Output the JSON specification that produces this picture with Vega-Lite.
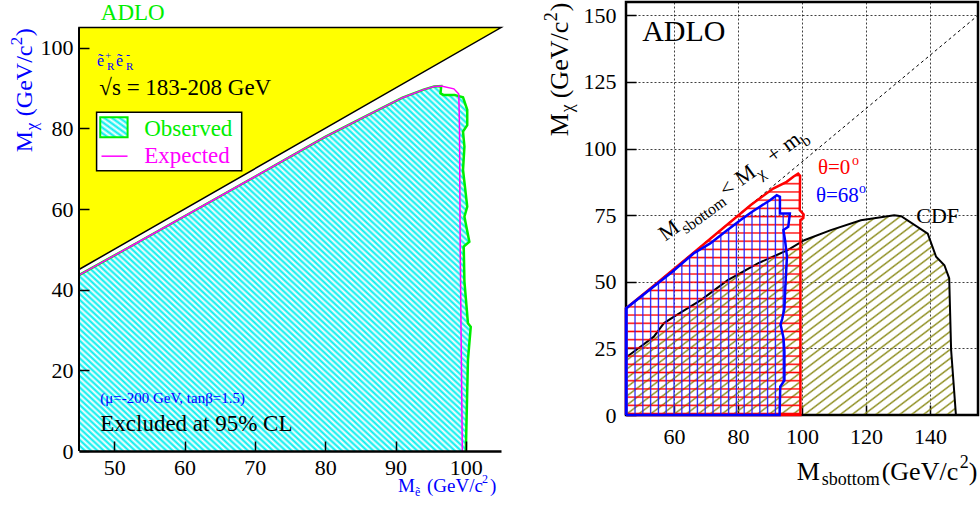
{
"$schema": "https://vega.github.io/schema/vega-lite/v6.json",
"padding": {"left": 7, "top": 0, "right": 0, "bottom": 0},
"spacing": 37,
"config": {
  "font": "Liberation Serif",
  "view": {"stroke": null},
  "axis": {"labelFont": "Liberation Serif", "labelFontSize": 22, "labelColor": "#000", "tickColor": "#000", "domainColor": "#000", "labelFlush": false, "labelOverlap": false}
},
"datasets": {
  "obs": [{"i":1,"x":45,"y":0},{"i":2,"x":45,"y":43.6},{"i":3,"x":52,"y":50.4},{"i":4,"x":60,"y":58.2},{"i":5,"x":70,"y":68.0},{"i":6,"x":80,"y":77.9},{"i":7,"x":86,"y":83.2},{"i":8,"x":91,"y":87.6},{"i":9,"x":94,"y":89.6},{"i":10,"x":95.5,"y":90.4},{"i":11,"x":96.5,"y":90.5},{"i":12,"x":96.4,"y":88.7},{"i":13,"x":96.8,"y":88.3},{"i":14,"x":98.4,"y":88.3},{"i":15,"x":99.6,"y":87.7},{"i":16,"x":100.2,"y":84.6},{"i":17,"x":100.2,"y":80.8},{"i":18,"x":99.6,"y":79.2},{"i":19,"x":99.8,"y":75.5},{"i":20,"x":99.6,"y":69.7},{"i":21,"x":100.2,"y":60.6},{"i":22,"x":99.8,"y":58.1},{"i":23,"x":100.5,"y":51.9},{"i":24,"x":99.7,"y":50.7},{"i":25,"x":99.8,"y":42.0},{"i":26,"x":100.3,"y":31.7},{"i":27,"x":100.7,"y":30.8},{"i":28,"x":100.3,"y":22.6},{"i":29,"x":100.0,"y":0}],
  "exp": [{"i":1,"x":45,"y":43.6},{"i":2,"x":52,"y":50.4},{"i":3,"x":60,"y":58.2},{"i":4,"x":70,"y":68.0},{"i":5,"x":80,"y":77.9},{"i":6,"x":86,"y":83.2},{"i":7,"x":91,"y":87.6},{"i":8,"x":94,"y":89.6},{"i":9,"x":95.5,"y":90.4},{"i":10,"x":96.5,"y":90.5},{"i":11,"x":98.3,"y":89.8},{"i":12,"x":99.0,"y":88.5},{"i":13,"x":99.1,"y":80},{"i":14,"x":99.2,"y":50},{"i":15,"x":99.5,"y":0}],
  "cdf": [{"i":1,"x":45,"y":0},{"i":2,"x":45,"y":21.6},{"i":3,"x":49.5,"y":25.6},{"i":4,"x":53.7,"y":29.4},{"i":5,"x":56.8,"y":34.4},{"i":6,"x":60,"y":36.9},{"i":7,"x":68.4,"y":43.1},{"i":8,"x":76.8,"y":50.6},{"i":9,"x":86.2,"y":56.9},{"i":10,"x":95.5,"y":61.9},{"i":11,"x":100.7,"y":65.6},{"i":12,"x":109,"y":69.4},{"i":13,"x":118.4,"y":73.1},{"i":14,"x":128.8,"y":75.0},{"i":15,"x":131,"y":74.6},{"i":16,"x":139.3,"y":68.1},{"i":17,"x":141.9,"y":59.4},{"i":18,"x":144.5,"y":56.2},{"i":19,"x":146,"y":51.3},{"i":20,"x":146.6,"y":24.4},{"i":21,"x":148.1,"y":0},{"i":22,"x":45,"y":0}],
  "red": [{"i":1,"x":45,"y":0},{"i":2,"x":45,"y":40},{"i":3,"x":55,"y":49.8},{"i":4,"x":65,"y":59.8},{"i":5,"x":75,"y":69.8},{"i":6,"x":84,"y":78.8},{"i":7,"x":91,"y":85},{"i":8,"x":95.2,"y":87.5},{"i":9,"x":97.5,"y":89.6},{"i":10,"x":98.8,"y":90.6},{"i":11,"x":99.4,"y":89.8},{"i":12,"x":99.3,"y":76.9},{"i":13,"x":100.5,"y":75.3},{"i":14,"x":100.4,"y":73.9},{"i":15,"x":99.5,"y":73.1},{"i":16,"x":99.5,"y":0},{"i":17,"x":45,"y":0}],
  "blue": [{"i":1,"x":45,"y":0},{"i":2,"x":45,"y":40},{"i":3,"x":59.4,"y":53.7},{"i":4,"x":66.1,"y":60.6},{"i":5,"x":71.3,"y":64.4},{"i":6,"x":76,"y":68.8},{"i":7,"x":80.7,"y":73.1},{"i":8,"x":84.3,"y":76.2},{"i":9,"x":90,"y":80.6},{"i":10,"x":92.1,"y":82.5},{"i":11,"x":93.1,"y":81.9},{"i":12,"x":93.1,"y":75.6},{"i":13,"x":96.2,"y":75.6},{"i":14,"x":95.7,"y":70.6},{"i":15,"x":94.2,"y":69.4},{"i":16,"x":94.7,"y":65.6},{"i":17,"x":95.3,"y":59.4},{"i":18,"x":94.9,"y":50.6},{"i":19,"x":94.5,"y":40},{"i":20,"x":93.8,"y":36},{"i":21,"x":93.3,"y":34},{"i":22,"x":94.2,"y":29},{"i":23,"x":94.5,"y":24},{"i":24,"x":94.5,"y":13},{"i":25,"x":93.2,"y":10.6},{"i":26,"x":93.0,"y":0},{"i":27,"x":45,"y":0}]
},
"hconcat": [
{
  "width": 422, "height": 449,
  "encoding": {
    "x": {"field": "x", "type": "quantitative", "scale": {"domain": [45, 105], "nice": false, "zero": false},
          "axis": {"values": [50,60,70,80,90,100], "title": null, "grid": false, "tickSize": -10, "tickWidth": 1.5, "labelPadding": 16, "domainWidth": 2.5, "zindex": 1}},
    "y": {"field": "y", "type": "quantitative", "scale": {"domain": [0, 111.33], "nice": false, "zero": false},
          "axis": {"values": [0,20,40,60,80,100], "title": null, "grid": false, "tickSize": -10, "tickWidth": 1.5, "labelPadding": 16, "domain": false, "zindex": 1}}
  },
  "layer": [
    {"data": {"values": [{"x":45,"y":45,"y2":105},{"x":105,"y":105,"y2":105}]},
     "mark": {"type": "area", "fill": "#ffff00", "stroke": "#000", "strokeWidth": 1.5},
     "encoding": {"y2": {"field": "y2"}}},
    {"data": {"name": "obs"},
     "mark": {"type": "line", "strokeOpacity": 0, "fill": {"gradient": "linear", "x1": 0, "y1": 1, "x2": 1, "y2": 0, "stops": [
{"offset":0,"color":"#0ee"},{"offset":0.004,"color":"#fff"},{"offset":0.008,"color":"#0ee"},{"offset":0.012,"color":"#fff"},{"offset":0.016,"color":"#0ee"},{"offset":0.02,"color":"#fff"},{"offset":0.024,"color":"#0ee"},{"offset":0.028,"color":"#fff"},{"offset":0.032,"color":"#0ee"},{"offset":0.036,"color":"#fff"},{"offset":0.04,"color":"#0ee"},{"offset":0.044,"color":"#fff"},{"offset":0.048,"color":"#0ee"},{"offset":0.052,"color":"#fff"},{"offset":0.056,"color":"#0ee"},{"offset":0.06,"color":"#fff"},{"offset":0.064,"color":"#0ee"},{"offset":0.068,"color":"#fff"},{"offset":0.072,"color":"#0ee"},{"offset":0.076,"color":"#fff"},{"offset":0.08,"color":"#0ee"},{"offset":0.084,"color":"#fff"},{"offset":0.088,"color":"#0ee"},{"offset":0.092,"color":"#fff"},{"offset":0.096,"color":"#0ee"},
{"offset":0.1,"color":"#fff"},{"offset":0.104,"color":"#0ee"},{"offset":0.108,"color":"#fff"},{"offset":0.112,"color":"#0ee"},{"offset":0.116,"color":"#fff"},{"offset":0.12,"color":"#0ee"},{"offset":0.124,"color":"#fff"},{"offset":0.128,"color":"#0ee"},{"offset":0.132,"color":"#fff"},{"offset":0.136,"color":"#0ee"},{"offset":0.14,"color":"#fff"},{"offset":0.144,"color":"#0ee"},{"offset":0.148,"color":"#fff"},{"offset":0.152,"color":"#0ee"},{"offset":0.156,"color":"#fff"},{"offset":0.16,"color":"#0ee"},{"offset":0.164,"color":"#fff"},{"offset":0.168,"color":"#0ee"},{"offset":0.172,"color":"#fff"},{"offset":0.176,"color":"#0ee"},{"offset":0.18,"color":"#fff"},{"offset":0.184,"color":"#0ee"},{"offset":0.188,"color":"#fff"},{"offset":0.192,"color":"#0ee"},{"offset":0.196,"color":"#fff"},
{"offset":0.2,"color":"#0ee"},{"offset":0.204,"color":"#fff"},{"offset":0.208,"color":"#0ee"},{"offset":0.212,"color":"#fff"},{"offset":0.216,"color":"#0ee"},{"offset":0.22,"color":"#fff"},{"offset":0.224,"color":"#0ee"},{"offset":0.228,"color":"#fff"},{"offset":0.232,"color":"#0ee"},{"offset":0.236,"color":"#fff"},{"offset":0.24,"color":"#0ee"},{"offset":0.244,"color":"#fff"},{"offset":0.248,"color":"#0ee"},{"offset":0.252,"color":"#fff"},{"offset":0.256,"color":"#0ee"},{"offset":0.26,"color":"#fff"},{"offset":0.264,"color":"#0ee"},{"offset":0.268,"color":"#fff"},{"offset":0.272,"color":"#0ee"},{"offset":0.276,"color":"#fff"},{"offset":0.28,"color":"#0ee"},{"offset":0.284,"color":"#fff"},{"offset":0.288,"color":"#0ee"},{"offset":0.292,"color":"#fff"},{"offset":0.296,"color":"#0ee"},
{"offset":0.3,"color":"#fff"},{"offset":0.304,"color":"#0ee"},{"offset":0.308,"color":"#fff"},{"offset":0.312,"color":"#0ee"},{"offset":0.316,"color":"#fff"},{"offset":0.32,"color":"#0ee"},{"offset":0.324,"color":"#fff"},{"offset":0.328,"color":"#0ee"},{"offset":0.332,"color":"#fff"},{"offset":0.336,"color":"#0ee"},{"offset":0.34,"color":"#fff"},{"offset":0.344,"color":"#0ee"},{"offset":0.348,"color":"#fff"},{"offset":0.352,"color":"#0ee"},{"offset":0.356,"color":"#fff"},{"offset":0.36,"color":"#0ee"},{"offset":0.364,"color":"#fff"},{"offset":0.368,"color":"#0ee"},{"offset":0.372,"color":"#fff"},{"offset":0.376,"color":"#0ee"},{"offset":0.38,"color":"#fff"},{"offset":0.384,"color":"#0ee"},{"offset":0.388,"color":"#fff"},{"offset":0.392,"color":"#0ee"},{"offset":0.396,"color":"#fff"},
{"offset":0.4,"color":"#0ee"},{"offset":0.404,"color":"#fff"},{"offset":0.408,"color":"#0ee"},{"offset":0.412,"color":"#fff"},{"offset":0.416,"color":"#0ee"},{"offset":0.42,"color":"#fff"},{"offset":0.424,"color":"#0ee"},{"offset":0.428,"color":"#fff"},{"offset":0.432,"color":"#0ee"},{"offset":0.436,"color":"#fff"},{"offset":0.44,"color":"#0ee"},{"offset":0.444,"color":"#fff"},{"offset":0.448,"color":"#0ee"},{"offset":0.452,"color":"#fff"},{"offset":0.456,"color":"#0ee"},{"offset":0.46,"color":"#fff"},{"offset":0.464,"color":"#0ee"},{"offset":0.468,"color":"#fff"},{"offset":0.472,"color":"#0ee"},{"offset":0.476,"color":"#fff"},{"offset":0.48,"color":"#0ee"},{"offset":0.484,"color":"#fff"},{"offset":0.488,"color":"#0ee"},{"offset":0.492,"color":"#fff"},{"offset":0.496,"color":"#0ee"},
{"offset":0.5,"color":"#fff"},{"offset":0.504,"color":"#0ee"},{"offset":0.508,"color":"#fff"},{"offset":0.512,"color":"#0ee"},{"offset":0.516,"color":"#fff"},{"offset":0.52,"color":"#0ee"},{"offset":0.524,"color":"#fff"},{"offset":0.528,"color":"#0ee"},{"offset":0.532,"color":"#fff"},{"offset":0.536,"color":"#0ee"},{"offset":0.54,"color":"#fff"},{"offset":0.544,"color":"#0ee"},{"offset":0.548,"color":"#fff"},{"offset":0.552,"color":"#0ee"},{"offset":0.556,"color":"#fff"},{"offset":0.56,"color":"#0ee"},{"offset":0.564,"color":"#fff"},{"offset":0.568,"color":"#0ee"},{"offset":0.572,"color":"#fff"},{"offset":0.576,"color":"#0ee"},{"offset":0.58,"color":"#fff"},{"offset":0.584,"color":"#0ee"},{"offset":0.588,"color":"#fff"},{"offset":0.592,"color":"#0ee"},{"offset":0.596,"color":"#fff"},
{"offset":0.6,"color":"#0ee"},{"offset":0.604,"color":"#fff"},{"offset":0.608,"color":"#0ee"},{"offset":0.612,"color":"#fff"},{"offset":0.616,"color":"#0ee"},{"offset":0.62,"color":"#fff"},{"offset":0.624,"color":"#0ee"},{"offset":0.628,"color":"#fff"},{"offset":0.632,"color":"#0ee"},{"offset":0.636,"color":"#fff"},{"offset":0.64,"color":"#0ee"},{"offset":0.644,"color":"#fff"},{"offset":0.648,"color":"#0ee"},{"offset":0.652,"color":"#fff"},{"offset":0.656,"color":"#0ee"},{"offset":0.66,"color":"#fff"},{"offset":0.664,"color":"#0ee"},{"offset":0.668,"color":"#fff"},{"offset":0.672,"color":"#0ee"},{"offset":0.676,"color":"#fff"},{"offset":0.68,"color":"#0ee"},{"offset":0.684,"color":"#fff"},{"offset":0.688,"color":"#0ee"},{"offset":0.692,"color":"#fff"},{"offset":0.696,"color":"#0ee"},
{"offset":0.7,"color":"#fff"},{"offset":0.704,"color":"#0ee"},{"offset":0.708,"color":"#fff"},{"offset":0.712,"color":"#0ee"},{"offset":0.716,"color":"#fff"},{"offset":0.72,"color":"#0ee"},{"offset":0.724,"color":"#fff"},{"offset":0.728,"color":"#0ee"},{"offset":0.732,"color":"#fff"},{"offset":0.736,"color":"#0ee"},{"offset":0.74,"color":"#fff"},{"offset":0.744,"color":"#0ee"},{"offset":0.748,"color":"#fff"},{"offset":0.752,"color":"#0ee"},{"offset":0.756,"color":"#fff"},{"offset":0.76,"color":"#0ee"},{"offset":0.764,"color":"#fff"},{"offset":0.768,"color":"#0ee"},{"offset":0.772,"color":"#fff"},{"offset":0.776,"color":"#0ee"},{"offset":0.78,"color":"#fff"},{"offset":0.784,"color":"#0ee"},{"offset":0.788,"color":"#fff"},{"offset":0.792,"color":"#0ee"},{"offset":0.796,"color":"#fff"},
{"offset":0.8,"color":"#0ee"},{"offset":0.804,"color":"#fff"},{"offset":0.808,"color":"#0ee"},{"offset":0.812,"color":"#fff"},{"offset":0.816,"color":"#0ee"},{"offset":0.82,"color":"#fff"},{"offset":0.824,"color":"#0ee"},{"offset":0.828,"color":"#fff"},{"offset":0.832,"color":"#0ee"},{"offset":0.836,"color":"#fff"},{"offset":0.84,"color":"#0ee"},{"offset":0.844,"color":"#fff"},{"offset":0.848,"color":"#0ee"},{"offset":0.852,"color":"#fff"},{"offset":0.856,"color":"#0ee"},{"offset":0.86,"color":"#fff"},{"offset":0.864,"color":"#0ee"},{"offset":0.868,"color":"#fff"},{"offset":0.872,"color":"#0ee"},{"offset":0.876,"color":"#fff"},{"offset":0.88,"color":"#0ee"},{"offset":0.884,"color":"#fff"},{"offset":0.888,"color":"#0ee"},{"offset":0.892,"color":"#fff"},{"offset":0.896,"color":"#0ee"},
{"offset":0.9,"color":"#fff"},{"offset":0.904,"color":"#0ee"},{"offset":0.908,"color":"#fff"},{"offset":0.912,"color":"#0ee"},{"offset":0.916,"color":"#fff"},{"offset":0.92,"color":"#0ee"},{"offset":0.924,"color":"#fff"},{"offset":0.928,"color":"#0ee"},{"offset":0.932,"color":"#fff"},{"offset":0.936,"color":"#0ee"},{"offset":0.94,"color":"#fff"},{"offset":0.944,"color":"#0ee"},{"offset":0.948,"color":"#fff"},{"offset":0.952,"color":"#0ee"},{"offset":0.956,"color":"#fff"},{"offset":0.96,"color":"#0ee"},{"offset":0.964,"color":"#fff"},{"offset":0.968,"color":"#0ee"},{"offset":0.972,"color":"#fff"},{"offset":0.976,"color":"#0ee"},{"offset":0.98,"color":"#fff"},{"offset":0.984,"color":"#0ee"},{"offset":0.988,"color":"#fff"},{"offset":0.992,"color":"#0ee"},{"offset":0.996,"color":"#fff"},{"offset":1,"color":"#0ee"}
     ]}},
     "encoding": {"order": {"field": "i", "type": "quantitative"}}},
    {"data": {"name": "obs"}, "transform": [{"filter": "datum.i >= 2"}],
     "mark": {"type": "line", "stroke": "#00ee00", "strokeWidth": 2.5},
     "encoding": {"order": {"field": "i", "type": "quantitative"}}},
    {"data": {"name": "exp"},
     "mark": {"type": "line", "stroke": "#ff00ff", "strokeWidth": 1.5},
     "encoding": {"order": {"field": "i", "type": "quantitative"}}},
    {"data": {"values": [{"x":45,"y":0,"y2":105}]},
     "mark": {"type": "rule", "stroke": "#000", "strokeWidth": 2},
     "encoding": {"y2": {"field": "y2"}}},
    {"data": {"values": [{"x":47.5,"x2":68.13,"y":69.5,"y2":83.98}]},
     "mark": {"type": "rect", "fill": "#fff", "stroke": "#000", "strokeWidth": 1.5},
     "encoding": {"x2": {"field": "x2"}, "y2": {"field": "y2"}}},
    {"data": {"values": [{"x":48.02,"x2":51.91,"y":77.78,"y2":82.74}]},
     "mark": {"type": "rect", "stroke": "#00ee00", "strokeWidth": 2, "fill": {"gradient": "linear", "x1": 0, "y1": 1, "x2": 1, "y2": 0, "stops": [
{"offset":0,"color":"#0ee"},{"offset":0.07,"color":"#fff"},{"offset":0.14,"color":"#0ee"},{"offset":0.21,"color":"#fff"},{"offset":0.28,"color":"#0ee"},{"offset":0.35,"color":"#fff"},{"offset":0.42,"color":"#0ee"},{"offset":0.49,"color":"#fff"},{"offset":0.56,"color":"#0ee"},{"offset":0.63,"color":"#fff"},{"offset":0.7,"color":"#0ee"},{"offset":0.77,"color":"#fff"},{"offset":0.84,"color":"#0ee"},{"offset":0.91,"color":"#fff"},{"offset":0.98,"color":"#0ee"}]}},
     "encoding": {"x2": {"field": "x2"}, "y2": {"field": "y2"}}},
    {"data": {"values": [{"x":48.2,"x2":51.9,"y":73.1}]},
     "mark": {"type": "rule", "stroke": "#ff00ff", "strokeWidth": 1.5},
     "encoding": {"x2": {"field": "x2"}}},
    {"data": {"values": [{"x":48.1,"y":106.9,"t":"ADLO"}]}, "mark": {"type": "text", "align": "left", "baseline": "alphabetic", "fontSize": 23, "color": "#00ee00"}, "encoding": {"text": {"field": "t"}}},
    {"data": {"values": [{"x":47.55,"y":95.5,"t":"ẽ"}]}, "mark": {"type": "text", "align": "left", "baseline": "alphabetic", "fontSize": 16, "color": "#0000ff"}, "encoding": {"text": {"field": "t"}}},
    {"data": {"values": [{"x":47.55,"y":95.5,"t":"+"}]}, "mark": {"type": "text", "align": "left", "baseline": "alphabetic", "fontSize": 11, "color": "#0000ff", "dx": 8, "dy": -7}, "encoding": {"text": {"field": "t"}}},
    {"data": {"values": [{"x":47.55,"y":95.5,"t":"R"}]}, "mark": {"type": "text", "align": "left", "baseline": "alphabetic", "fontSize": 11, "color": "#0000ff", "dx": 10, "dy": 4}, "encoding": {"text": {"field": "t"}}},
    {"data": {"values": [{"x":47.55,"y":95.5,"t":"ẽ"}]}, "mark": {"type": "text", "align": "left", "baseline": "alphabetic", "fontSize": 16, "color": "#0000ff", "dx": 19}, "encoding": {"text": {"field": "t"}}},
    {"data": {"values": [{"x":47.55,"y":95.5,"t":"-"}]}, "mark": {"type": "text", "align": "left", "baseline": "alphabetic", "fontSize": 12, "color": "#0000ff", "dx": 29, "dy": -7}, "encoding": {"text": {"field": "t"}}},
    {"data": {"values": [{"x":47.55,"y":95.5,"t":"R"}]}, "mark": {"type": "text", "align": "left", "baseline": "alphabetic", "fontSize": 11, "color": "#0000ff", "dx": 29, "dy": 4}, "encoding": {"text": {"field": "t"}}},
    {"data": {"values": [{"x":47.89,"y":88.3,"t":"√s = 183-208 GeV"}]}, "mark": {"type": "text", "align": "left", "baseline": "alphabetic", "fontSize": 23, "color": "#000"}, "encoding": {"text": {"field": "t"}}},
    {"data": {"values": [{"x":54.27,"y":78.1,"t":"Observed"}]}, "mark": {"type": "text", "align": "left", "baseline": "alphabetic", "fontSize": 23, "color": "#00ee00"}, "encoding": {"text": {"field": "t"}}},
    {"data": {"values": [{"x":54.27,"y":71.3,"t":"Expected"}]}, "mark": {"type": "text", "align": "left", "baseline": "alphabetic", "fontSize": 23, "color": "#ff00ff"}, "encoding": {"text": {"field": "t"}}},
    {"data": {"values": [{"x":48.02,"y":11.8,"t":"(μ=-200 GeV, tanβ=1.5)"}]}, "mark": {"type": "text", "align": "left", "baseline": "alphabetic", "fontSize": 15, "color": "#0000ff"}, "encoding": {"text": {"field": "t"}}},
    {"data": {"values": [{"x":48.02,"y":4.96,"t":"Excluded at 95% CL"}]}, "mark": {"type": "text", "align": "left", "baseline": "alphabetic", "fontSize": 23, "color": "#000"}, "encoding": {"text": {"field": "t"}}},
    {"data": {"values": [{"x":38.3,"y":74.1,"t":"M"}]}, "mark": {"type": "text", "align": "left", "baseline": "alphabetic", "fontSize": 24, "color": "#0000ff", "angle": 270}, "encoding": {"text": {"field": "t"}}},
    {"data": {"values": [{"x":38.3,"y":74.1,"t":"χ"}]}, "mark": {"type": "text", "align": "left", "baseline": "alphabetic", "fontSize": 17, "color": "#0000ff", "angle": 270, "dx": 22, "dy": 5}, "encoding": {"text": {"field": "t"}}},
    {"data": {"values": [{"x":38.3,"y":74.1,"t":"(GeV/c"}]}, "mark": {"type": "text", "align": "left", "baseline": "alphabetic", "fontSize": 24, "color": "#0000ff", "angle": 270, "dx": 36}, "encoding": {"text": {"field": "t"}}},
    {"data": {"values": [{"x":38.3,"y":74.1,"t":"2"}]}, "mark": {"type": "text", "align": "left", "baseline": "alphabetic", "fontSize": 17, "color": "#0000ff", "angle": 270, "dx": 107, "dy": -10}, "encoding": {"text": {"field": "t"}}},
    {"data": {"values": [{"x":38.3,"y":74.1,"t":")"}]}, "mark": {"type": "text", "align": "left", "baseline": "alphabetic", "fontSize": 24, "color": "#0000ff", "angle": 270, "dx": 116}, "encoding": {"text": {"field": "t"}}},
    {"data": {"values": [{"x":90.36,"y":-10.2,"t":"M"}]}, "mark": {"type": "text", "align": "left", "baseline": "alphabetic", "fontSize": 19, "color": "#0000ff"}, "encoding": {"text": {"field": "t"}}},
    {"data": {"values": [{"x":90.36,"y":-10.2,"t":"ẽ"}]}, "mark": {"type": "text", "align": "left", "baseline": "alphabetic", "fontSize": 12, "color": "#0000ff", "dx": 17, "dy": 4}, "encoding": {"text": {"field": "t"}}},
    {"data": {"values": [{"x":90.36,"y":-10.2,"t":"(GeV/c"}]}, "mark": {"type": "text", "align": "left", "baseline": "alphabetic", "fontSize": 19, "color": "#0000ff", "dx": 29}, "encoding": {"text": {"field": "t"}}},
    {"data": {"values": [{"x":90.36,"y":-10.2,"t":"2"}]}, "mark": {"type": "text", "align": "left", "baseline": "alphabetic", "fontSize": 12, "color": "#0000ff", "dx": 84, "dy": -9}, "encoding": {"text": {"field": "t"}}},
    {"data": {"values": [{"x":90.36,"y":-10.2,"t":")"}]}, "mark": {"type": "text", "align": "left", "baseline": "alphabetic", "fontSize": 19, "color": "#0000ff", "dx": 92}, "encoding": {"text": {"field": "t"}}}
  ]
},
{
  "width": 352, "height": 413,
  "view": {"stroke": "#000", "strokeWidth": 2.5},
  "encoding": {
    "x": {"field": "x", "type": "quantitative", "scale": {"domain": [45, 155], "nice": false, "zero": false},
          "axis": {"values": [60,80,100,120,140], "title": null, "grid": true, "gridDash": [2,2], "gridColor": "#000", "gridOpacity": 0.75, "tickSize": -10, "tickWidth": 1.5, "labelPadding": 21, "domain": false}},
    "y": {"field": "y", "type": "quantitative", "scale": {"domain": [0, 155], "nice": false, "zero": false},
          "axis": {"values": [0,25,50,75,100,125,150], "title": null, "grid": true, "gridDash": [2,2], "gridColor": "#000", "gridOpacity": 0.75, "tickSize": -10, "tickWidth": 1.5, "labelPadding": 20, "domain": false}}
  },
  "layer": [
    {"data": {"name": "cdf"},
     "mark": {"type": "line", "stroke": "#000", "strokeWidth": 2, "fill": {"gradient": "linear", "x1": 0, "y1": 0, "x2": 1.097, "y2": 0.88, "stops": [
{"offset":0,"color":"rgba(140,140,28,0)"},{"offset":0.004,"color":"#8c8c1c"},{"offset":0.008,"color":"rgba(140,140,28,0)"},
{"offset":0.02,"color":"rgba(140,140,28,0)"},{"offset":0.024,"color":"#8c8c1c"},{"offset":0.028,"color":"rgba(140,140,28,0)"},
{"offset":0.04,"color":"rgba(140,140,28,0)"},{"offset":0.044,"color":"#8c8c1c"},{"offset":0.048,"color":"rgba(140,140,28,0)"},
{"offset":0.06,"color":"rgba(140,140,28,0)"},{"offset":0.064,"color":"#8c8c1c"},{"offset":0.068,"color":"rgba(140,140,28,0)"},
{"offset":0.08,"color":"rgba(140,140,28,0)"},{"offset":0.084,"color":"#8c8c1c"},{"offset":0.088,"color":"rgba(140,140,28,0)"},
{"offset":0.1,"color":"rgba(140,140,28,0)"},{"offset":0.104,"color":"#8c8c1c"},{"offset":0.108,"color":"rgba(140,140,28,0)"},
{"offset":0.12,"color":"rgba(140,140,28,0)"},{"offset":0.124,"color":"#8c8c1c"},{"offset":0.128,"color":"rgba(140,140,28,0)"},
{"offset":0.14,"color":"rgba(140,140,28,0)"},{"offset":0.144,"color":"#8c8c1c"},{"offset":0.148,"color":"rgba(140,140,28,0)"},
{"offset":0.16,"color":"rgba(140,140,28,0)"},{"offset":0.164,"color":"#8c8c1c"},{"offset":0.168,"color":"rgba(140,140,28,0)"},
{"offset":0.18,"color":"rgba(140,140,28,0)"},{"offset":0.184,"color":"#8c8c1c"},{"offset":0.188,"color":"rgba(140,140,28,0)"},
{"offset":0.2,"color":"rgba(140,140,28,0)"},{"offset":0.204,"color":"#8c8c1c"},{"offset":0.208,"color":"rgba(140,140,28,0)"},
{"offset":0.22,"color":"rgba(140,140,28,0)"},{"offset":0.224,"color":"#8c8c1c"},{"offset":0.228,"color":"rgba(140,140,28,0)"},
{"offset":0.24,"color":"rgba(140,140,28,0)"},{"offset":0.244,"color":"#8c8c1c"},{"offset":0.248,"color":"rgba(140,140,28,0)"},
{"offset":0.26,"color":"rgba(140,140,28,0)"},{"offset":0.264,"color":"#8c8c1c"},{"offset":0.268,"color":"rgba(140,140,28,0)"},
{"offset":0.28,"color":"rgba(140,140,28,0)"},{"offset":0.284,"color":"#8c8c1c"},{"offset":0.288,"color":"rgba(140,140,28,0)"},
{"offset":0.3,"color":"rgba(140,140,28,0)"},{"offset":0.304,"color":"#8c8c1c"},{"offset":0.308,"color":"rgba(140,140,28,0)"},
{"offset":0.32,"color":"rgba(140,140,28,0)"},{"offset":0.324,"color":"#8c8c1c"},{"offset":0.328,"color":"rgba(140,140,28,0)"},
{"offset":0.34,"color":"rgba(140,140,28,0)"},{"offset":0.344,"color":"#8c8c1c"},{"offset":0.348,"color":"rgba(140,140,28,0)"},
{"offset":0.36,"color":"rgba(140,140,28,0)"},{"offset":0.364,"color":"#8c8c1c"},{"offset":0.368,"color":"rgba(140,140,28,0)"},
{"offset":0.38,"color":"rgba(140,140,28,0)"},{"offset":0.384,"color":"#8c8c1c"},{"offset":0.388,"color":"rgba(140,140,28,0)"},
{"offset":0.4,"color":"rgba(140,140,28,0)"},{"offset":0.404,"color":"#8c8c1c"},{"offset":0.408,"color":"rgba(140,140,28,0)"},
{"offset":0.42,"color":"rgba(140,140,28,0)"},{"offset":0.424,"color":"#8c8c1c"},{"offset":0.428,"color":"rgba(140,140,28,0)"},
{"offset":0.44,"color":"rgba(140,140,28,0)"},{"offset":0.444,"color":"#8c8c1c"},{"offset":0.448,"color":"rgba(140,140,28,0)"},
{"offset":0.46,"color":"rgba(140,140,28,0)"},{"offset":0.464,"color":"#8c8c1c"},{"offset":0.468,"color":"rgba(140,140,28,0)"},
{"offset":0.48,"color":"rgba(140,140,28,0)"},{"offset":0.484,"color":"#8c8c1c"},{"offset":0.488,"color":"rgba(140,140,28,0)"},
{"offset":0.5,"color":"rgba(140,140,28,0)"},{"offset":0.504,"color":"#8c8c1c"},{"offset":0.508,"color":"rgba(140,140,28,0)"},
{"offset":0.52,"color":"rgba(140,140,28,0)"},{"offset":0.524,"color":"#8c8c1c"},{"offset":0.528,"color":"rgba(140,140,28,0)"},
{"offset":0.54,"color":"rgba(140,140,28,0)"},{"offset":0.544,"color":"#8c8c1c"},{"offset":0.548,"color":"rgba(140,140,28,0)"},
{"offset":0.56,"color":"rgba(140,140,28,0)"},{"offset":0.564,"color":"#8c8c1c"},{"offset":0.568,"color":"rgba(140,140,28,0)"},
{"offset":0.58,"color":"rgba(140,140,28,0)"},{"offset":0.584,"color":"#8c8c1c"},{"offset":0.588,"color":"rgba(140,140,28,0)"},
{"offset":0.6,"color":"rgba(140,140,28,0)"},{"offset":0.604,"color":"#8c8c1c"},{"offset":0.608,"color":"rgba(140,140,28,0)"},
{"offset":0.62,"color":"rgba(140,140,28,0)"},{"offset":0.624,"color":"#8c8c1c"},{"offset":0.628,"color":"rgba(140,140,28,0)"},
{"offset":0.64,"color":"rgba(140,140,28,0)"},{"offset":0.644,"color":"#8c8c1c"},{"offset":0.648,"color":"rgba(140,140,28,0)"},
{"offset":0.66,"color":"rgba(140,140,28,0)"},{"offset":0.664,"color":"#8c8c1c"},{"offset":0.668,"color":"rgba(140,140,28,0)"},
{"offset":0.68,"color":"rgba(140,140,28,0)"},{"offset":0.684,"color":"#8c8c1c"},{"offset":0.688,"color":"rgba(140,140,28,0)"},
{"offset":0.7,"color":"rgba(140,140,28,0)"},{"offset":0.704,"color":"#8c8c1c"},{"offset":0.708,"color":"rgba(140,140,28,0)"},
{"offset":0.72,"color":"rgba(140,140,28,0)"},{"offset":0.724,"color":"#8c8c1c"},{"offset":0.728,"color":"rgba(140,140,28,0)"},
{"offset":0.74,"color":"rgba(140,140,28,0)"},{"offset":0.744,"color":"#8c8c1c"},{"offset":0.748,"color":"rgba(140,140,28,0)"},
{"offset":0.76,"color":"rgba(140,140,28,0)"},{"offset":0.764,"color":"#8c8c1c"},{"offset":0.768,"color":"rgba(140,140,28,0)"},
{"offset":0.78,"color":"rgba(140,140,28,0)"},{"offset":0.784,"color":"#8c8c1c"},{"offset":0.788,"color":"rgba(140,140,28,0)"},
{"offset":0.8,"color":"rgba(140,140,28,0)"},{"offset":0.804,"color":"#8c8c1c"},{"offset":0.808,"color":"rgba(140,140,28,0)"},
{"offset":0.82,"color":"rgba(140,140,28,0)"},{"offset":0.824,"color":"#8c8c1c"},{"offset":0.828,"color":"rgba(140,140,28,0)"},
{"offset":0.84,"color":"rgba(140,140,28,0)"},{"offset":0.844,"color":"#8c8c1c"},{"offset":0.848,"color":"rgba(140,140,28,0)"},
{"offset":0.86,"color":"rgba(140,140,28,0)"},{"offset":0.864,"color":"#8c8c1c"},{"offset":0.868,"color":"rgba(140,140,28,0)"},
{"offset":0.88,"color":"rgba(140,140,28,0)"},{"offset":0.884,"color":"#8c8c1c"},{"offset":0.888,"color":"rgba(140,140,28,0)"},
{"offset":0.9,"color":"rgba(140,140,28,0)"},{"offset":0.904,"color":"#8c8c1c"},{"offset":0.908,"color":"rgba(140,140,28,0)"},
{"offset":0.92,"color":"rgba(140,140,28,0)"},{"offset":0.924,"color":"#8c8c1c"},{"offset":0.928,"color":"rgba(140,140,28,0)"},
{"offset":0.94,"color":"rgba(140,140,28,0)"},{"offset":0.944,"color":"#8c8c1c"},{"offset":0.948,"color":"rgba(140,140,28,0)"},
{"offset":0.96,"color":"rgba(140,140,28,0)"},{"offset":0.964,"color":"#8c8c1c"},{"offset":0.968,"color":"rgba(140,140,28,0)"},
{"offset":0.98,"color":"rgba(140,140,28,0)"},{"offset":0.984,"color":"#8c8c1c"},{"offset":0.988,"color":"rgba(140,140,28,0)"},
{"offset":1,"color":"rgba(140,140,28,0)"}
     ]}},
     "encoding": {"order": {"field": "i", "type": "quantitative"}}},
    {"data": {"values": [{"i":1,"x":45,"y":40},{"i":2,"x":155,"y":150}]},
     "mark": {"type": "line", "stroke": "#000", "strokeWidth": 1, "strokeDash": [3,3]},
     "encoding": {"order": {"field": "i", "type": "quantitative"}}},
    {"data": {"name": "red"},
     "mark": {"type": "line", "stroke": "#ff0000", "strokeWidth": 2.5, "fill": {"gradient": "linear", "x1": 0, "y1": 1, "x2": 0, "y2": 0, "stops": [
{"offset":0,"color":"rgba(255,0,0,0)"},{"offset":0.006,"color":"#f00"},{"offset":0.012,"color":"rgba(255,0,0,0)"},
{"offset":0.034,"color":"rgba(255,0,0,0)"},{"offset":0.04,"color":"#f00"},{"offset":0.046,"color":"rgba(255,0,0,0)"},
{"offset":0.068,"color":"rgba(255,0,0,0)"},{"offset":0.074,"color":"#f00"},{"offset":0.08,"color":"rgba(255,0,0,0)"},
{"offset":0.102,"color":"rgba(255,0,0,0)"},{"offset":0.108,"color":"#f00"},{"offset":0.114,"color":"rgba(255,0,0,0)"},
{"offset":0.136,"color":"rgba(255,0,0,0)"},{"offset":0.142,"color":"#f00"},{"offset":0.148,"color":"rgba(255,0,0,0)"},
{"offset":0.17,"color":"rgba(255,0,0,0)"},{"offset":0.176,"color":"#f00"},{"offset":0.182,"color":"rgba(255,0,0,0)"},
{"offset":0.204,"color":"rgba(255,0,0,0)"},{"offset":0.21,"color":"#f00"},{"offset":0.216,"color":"rgba(255,0,0,0)"},
{"offset":0.238,"color":"rgba(255,0,0,0)"},{"offset":0.244,"color":"#f00"},{"offset":0.25,"color":"rgba(255,0,0,0)"},
{"offset":0.272,"color":"rgba(255,0,0,0)"},{"offset":0.278,"color":"#f00"},{"offset":0.284,"color":"rgba(255,0,0,0)"},
{"offset":0.306,"color":"rgba(255,0,0,0)"},{"offset":0.312,"color":"#f00"},{"offset":0.318,"color":"rgba(255,0,0,0)"},
{"offset":0.34,"color":"rgba(255,0,0,0)"},{"offset":0.346,"color":"#f00"},{"offset":0.352,"color":"rgba(255,0,0,0)"},
{"offset":0.374,"color":"rgba(255,0,0,0)"},{"offset":0.38,"color":"#f00"},{"offset":0.386,"color":"rgba(255,0,0,0)"},
{"offset":0.408,"color":"rgba(255,0,0,0)"},{"offset":0.414,"color":"#f00"},{"offset":0.42,"color":"rgba(255,0,0,0)"},
{"offset":0.442,"color":"rgba(255,0,0,0)"},{"offset":0.448,"color":"#f00"},{"offset":0.454,"color":"rgba(255,0,0,0)"},
{"offset":0.476,"color":"rgba(255,0,0,0)"},{"offset":0.482,"color":"#f00"},{"offset":0.488,"color":"rgba(255,0,0,0)"},
{"offset":0.51,"color":"rgba(255,0,0,0)"},{"offset":0.516,"color":"#f00"},{"offset":0.522,"color":"rgba(255,0,0,0)"},
{"offset":0.544,"color":"rgba(255,0,0,0)"},{"offset":0.55,"color":"#f00"},{"offset":0.556,"color":"rgba(255,0,0,0)"},
{"offset":0.578,"color":"rgba(255,0,0,0)"},{"offset":0.584,"color":"#f00"},{"offset":0.59,"color":"rgba(255,0,0,0)"},
{"offset":0.612,"color":"rgba(255,0,0,0)"},{"offset":0.618,"color":"#f00"},{"offset":0.624,"color":"rgba(255,0,0,0)"},
{"offset":0.646,"color":"rgba(255,0,0,0)"},{"offset":0.652,"color":"#f00"},{"offset":0.658,"color":"rgba(255,0,0,0)"},
{"offset":0.68,"color":"rgba(255,0,0,0)"},{"offset":0.686,"color":"#f00"},{"offset":0.692,"color":"rgba(255,0,0,0)"},
{"offset":0.714,"color":"rgba(255,0,0,0)"},{"offset":0.72,"color":"#f00"},{"offset":0.726,"color":"rgba(255,0,0,0)"},
{"offset":0.748,"color":"rgba(255,0,0,0)"},{"offset":0.754,"color":"#f00"},{"offset":0.76,"color":"rgba(255,0,0,0)"},
{"offset":0.782,"color":"rgba(255,0,0,0)"},{"offset":0.788,"color":"#f00"},{"offset":0.794,"color":"rgba(255,0,0,0)"},
{"offset":0.816,"color":"rgba(255,0,0,0)"},{"offset":0.822,"color":"#f00"},{"offset":0.828,"color":"rgba(255,0,0,0)"},
{"offset":0.85,"color":"rgba(255,0,0,0)"},{"offset":0.856,"color":"#f00"},{"offset":0.862,"color":"rgba(255,0,0,0)"},
{"offset":0.884,"color":"rgba(255,0,0,0)"},{"offset":0.89,"color":"#f00"},{"offset":0.896,"color":"rgba(255,0,0,0)"},
{"offset":0.918,"color":"rgba(255,0,0,0)"},{"offset":0.924,"color":"#f00"},{"offset":0.93,"color":"rgba(255,0,0,0)"},
{"offset":0.952,"color":"rgba(255,0,0,0)"},{"offset":0.958,"color":"#f00"},{"offset":0.964,"color":"rgba(255,0,0,0)"},
{"offset":0.986,"color":"rgba(255,0,0,0)"},{"offset":0.992,"color":"#f00"},{"offset":0.998,"color":"rgba(255,0,0,0)"}
     ]}},
     "encoding": {"order": {"field": "i", "type": "quantitative"}}},
    {"data": {"name": "blue"},
     "mark": {"type": "line", "stroke": "#0000ff", "strokeWidth": 2.5, "fill": {"gradient": "linear", "x1": 0, "y1": 0, "x2": 1, "y2": 0, "stops": [
{"offset":0,"color":"rgba(26,26,255,0)"},{"offset":0.0075,"color":"#1a1aff"},{"offset":0.015,"color":"rgba(26,26,255,0)"},
{"offset":0.0476,"color":"rgba(26,26,255,0)"},{"offset":0.0551,"color":"#1a1aff"},{"offset":0.0626,"color":"rgba(26,26,255,0)"},
{"offset":0.0952,"color":"rgba(26,26,255,0)"},{"offset":0.1027,"color":"#1a1aff"},{"offset":0.1102,"color":"rgba(26,26,255,0)"},
{"offset":0.1428,"color":"rgba(26,26,255,0)"},{"offset":0.1503,"color":"#1a1aff"},{"offset":0.1578,"color":"rgba(26,26,255,0)"},
{"offset":0.1904,"color":"rgba(26,26,255,0)"},{"offset":0.1979,"color":"#1a1aff"},{"offset":0.2054,"color":"rgba(26,26,255,0)"},
{"offset":0.238,"color":"rgba(26,26,255,0)"},{"offset":0.2455,"color":"#1a1aff"},{"offset":0.253,"color":"rgba(26,26,255,0)"},
{"offset":0.2856,"color":"rgba(26,26,255,0)"},{"offset":0.2931,"color":"#1a1aff"},{"offset":0.3006,"color":"rgba(26,26,255,0)"},
{"offset":0.3332,"color":"rgba(26,26,255,0)"},{"offset":0.3407,"color":"#1a1aff"},{"offset":0.3482,"color":"rgba(26,26,255,0)"},
{"offset":0.3808,"color":"rgba(26,26,255,0)"},{"offset":0.3883,"color":"#1a1aff"},{"offset":0.3958,"color":"rgba(26,26,255,0)"},
{"offset":0.4284,"color":"rgba(26,26,255,0)"},{"offset":0.4359,"color":"#1a1aff"},{"offset":0.4434,"color":"rgba(26,26,255,0)"},
{"offset":0.476,"color":"rgba(26,26,255,0)"},{"offset":0.4835,"color":"#1a1aff"},{"offset":0.491,"color":"rgba(26,26,255,0)"},
{"offset":0.5236,"color":"rgba(26,26,255,0)"},{"offset":0.5311,"color":"#1a1aff"},{"offset":0.5386,"color":"rgba(26,26,255,0)"},
{"offset":0.5712,"color":"rgba(26,26,255,0)"},{"offset":0.5787,"color":"#1a1aff"},{"offset":0.5862,"color":"rgba(26,26,255,0)"},
{"offset":0.6188,"color":"rgba(26,26,255,0)"},{"offset":0.6263,"color":"#1a1aff"},{"offset":0.6338,"color":"rgba(26,26,255,0)"},
{"offset":0.6664,"color":"rgba(26,26,255,0)"},{"offset":0.6739,"color":"#1a1aff"},{"offset":0.6814,"color":"rgba(26,26,255,0)"},
{"offset":0.714,"color":"rgba(26,26,255,0)"},{"offset":0.7215,"color":"#1a1aff"},{"offset":0.729,"color":"rgba(26,26,255,0)"},
{"offset":0.7616,"color":"rgba(26,26,255,0)"},{"offset":0.7691,"color":"#1a1aff"},{"offset":0.7766,"color":"rgba(26,26,255,0)"},
{"offset":0.8092,"color":"rgba(26,26,255,0)"},{"offset":0.8167,"color":"#1a1aff"},{"offset":0.8242,"color":"rgba(26,26,255,0)"},
{"offset":0.8568,"color":"rgba(26,26,255,0)"},{"offset":0.8643,"color":"#1a1aff"},{"offset":0.8718,"color":"rgba(26,26,255,0)"},
{"offset":0.9044,"color":"rgba(26,26,255,0)"},{"offset":0.9119,"color":"#1a1aff"},{"offset":0.9194,"color":"rgba(26,26,255,0)"},
{"offset":0.952,"color":"rgba(26,26,255,0)"},{"offset":0.9595,"color":"#1a1aff"},{"offset":0.967,"color":"rgba(26,26,255,0)"}
     ]}},
     "encoding": {"order": {"field": "i", "type": "quantitative"}}},
    {"data": {"values": [{"x":50.05,"y":140.2,"t":"ADLO"}]}, "mark": {"type": "text", "align": "left", "baseline": "alphabetic", "fontSize": 30, "color": "#000"}, "encoding": {"text": {"field": "t"}}},
    {"data": {"values": [{"x":104.97,"y":90.6,"t":"θ=0"}]}, "mark": {"type": "text", "align": "left", "baseline": "alphabetic", "fontSize": 21, "color": "#ff0000"}, "encoding": {"text": {"field": "t"}}},
    {"data": {"values": [{"x":104.97,"y":90.6,"t":"o"}]}, "mark": {"type": "text", "align": "left", "baseline": "alphabetic", "fontSize": 14, "color": "#ff0000", "dx": 34, "dy": -9}, "encoding": {"text": {"field": "t"}}},
    {"data": {"values": [{"x":104.35,"y":80.0,"t":"θ=68"}]}, "mark": {"type": "text", "align": "left", "baseline": "alphabetic", "fontSize": 21, "color": "#0000ff"}, "encoding": {"text": {"field": "t"}}},
    {"data": {"values": [{"x":104.35,"y":80.0,"t":"o"}]}, "mark": {"type": "text", "align": "left", "baseline": "alphabetic", "fontSize": 14, "color": "#0000ff", "dx": 43, "dy": -9}, "encoding": {"text": {"field": "t"}}},
    {"data": {"values": [{"x":135.7,"y":72.1,"t":"CDF"}]}, "mark": {"type": "text", "align": "left", "baseline": "alphabetic", "fontSize": 22, "color": "#000"}, "encoding": {"text": {"field": "t"}}},
    {"data": {"values": [{"x":57.3,"y":65.0,"t":"M"}]}, "mark": {"type": "text", "align": "left", "baseline": "alphabetic", "fontSize": 22, "color": "#000", "angle": 324}, "encoding": {"text": {"field": "t"}}},
    {"data": {"values": [{"x":57.3,"y":65.0,"t":"sbottom"}]}, "mark": {"type": "text", "align": "left", "baseline": "alphabetic", "fontSize": 16, "color": "#000", "angle": 324, "dx": 21, "dy": 6}, "encoding": {"text": {"field": "t"}}},
    {"data": {"values": [{"x":57.3,"y":65.0,"t":"<"}]}, "mark": {"type": "text", "align": "left", "baseline": "alphabetic", "fontSize": 22, "color": "#000", "angle": 324, "dx": 75}, "encoding": {"text": {"field": "t"}}},
    {"data": {"values": [{"x":57.3,"y":65.0,"t":"M"}]}, "mark": {"type": "text", "align": "left", "baseline": "alphabetic", "fontSize": 22, "color": "#000", "angle": 324, "dx": 94}, "encoding": {"text": {"field": "t"}}},
    {"data": {"values": [{"x":57.3,"y":65.0,"t":"χ"}]}, "mark": {"type": "text", "align": "left", "baseline": "alphabetic", "fontSize": 16, "color": "#000", "angle": 324, "dx": 114, "dy": 6}, "encoding": {"text": {"field": "t"}}},
    {"data": {"values": [{"x":57.3,"y":65.0,"t":"+"}]}, "mark": {"type": "text", "align": "left", "baseline": "alphabetic", "fontSize": 22, "color": "#000", "angle": 324, "dx": 133}, "encoding": {"text": {"field": "t"}}},
    {"data": {"values": [{"x":57.3,"y":65.0,"t":"m"}]}, "mark": {"type": "text", "align": "left", "baseline": "alphabetic", "fontSize": 22, "color": "#000", "angle": 324, "dx": 152}, "encoding": {"text": {"field": "t"}}},
    {"data": {"values": [{"x":57.3,"y":65.0,"t":"b"}]}, "mark": {"type": "text", "align": "left", "baseline": "alphabetic", "fontSize": 16, "color": "#000", "angle": 324, "dx": 169, "dy": 6}, "encoding": {"text": {"field": "t"}}},
    {"data": {"values": [{"x":26.78,"y":104.6,"t":"M"}]}, "mark": {"type": "text", "align": "left", "baseline": "alphabetic", "fontSize": 26, "color": "#000", "angle": 270}, "encoding": {"text": {"field": "t"}}},
    {"data": {"values": [{"x":26.78,"y":104.6,"t":"χ"}]}, "mark": {"type": "text", "align": "left", "baseline": "alphabetic", "fontSize": 18, "color": "#000", "angle": 270, "dx": 24, "dy": 5}, "encoding": {"text": {"field": "t"}}},
    {"data": {"values": [{"x":26.78,"y":104.6,"t":"(GeV/c"}]}, "mark": {"type": "text", "align": "left", "baseline": "alphabetic", "fontSize": 26, "color": "#000", "angle": 270, "dx": 38}, "encoding": {"text": {"field": "t"}}},
    {"data": {"values": [{"x":26.78,"y":104.6,"t":"2"}]}, "mark": {"type": "text", "align": "left", "baseline": "alphabetic", "fontSize": 18, "color": "#000", "angle": 270, "dx": 115, "dy": -11}, "encoding": {"text": {"field": "t"}}},
    {"data": {"values": [{"x":26.78,"y":104.6,"t":")"}]}, "mark": {"type": "text", "align": "left", "baseline": "alphabetic", "fontSize": 26, "color": "#000", "angle": 270, "dx": 125}, "encoding": {"text": {"field": "t"}}},
    {"data": {"values": [{"x":98.33,"y":-24.37,"t":"M"}]}, "mark": {"type": "text", "align": "left", "baseline": "alphabetic", "fontSize": 26, "color": "#000"}, "encoding": {"text": {"field": "t"}}},
    {"data": {"values": [{"x":98.33,"y":-24.37,"t":"sbottom"}]}, "mark": {"type": "text", "align": "left", "baseline": "alphabetic", "fontSize": 18, "color": "#000", "dx": 25, "dy": 5}, "encoding": {"text": {"field": "t"}}},
    {"data": {"values": [{"x":98.33,"y":-24.37,"t":"(GeV/c"}]}, "mark": {"type": "text", "align": "left", "baseline": "alphabetic", "fontSize": 26, "color": "#000", "dx": 85}, "encoding": {"text": {"field": "t"}}},
    {"data": {"values": [{"x":98.33,"y":-24.37,"t":"2"}]}, "mark": {"type": "text", "align": "left", "baseline": "alphabetic", "fontSize": 18, "color": "#000", "dx": 163, "dy": -12}, "encoding": {"text": {"field": "t"}}},
    {"data": {"values": [{"x":98.33,"y":-24.37,"t":")"}]}, "mark": {"type": "text", "align": "left", "baseline": "alphabetic", "fontSize": 26, "color": "#000", "dx": 172}, "encoding": {"text": {"field": "t"}}}
  ]
}
]
}
